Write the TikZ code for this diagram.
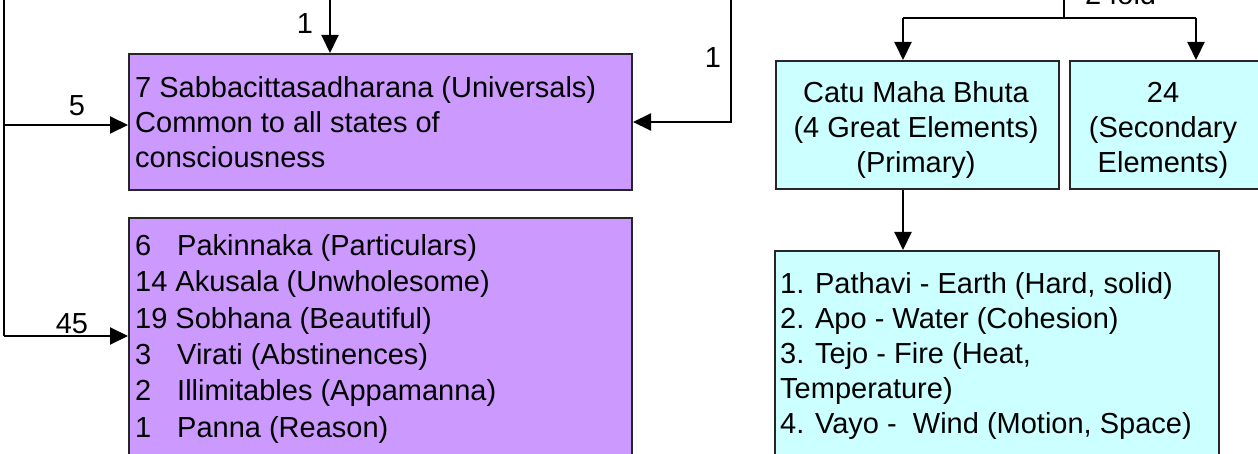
\documentclass[tikz,border=0pt]{standalone}
\usepackage{fontspec}
\setmainfont{Liberation Sans}
\usetikzlibrary{arrows.meta}
\definecolor{lilac}{RGB}{204,153,255}
\definecolor{paleaqua}{RGB}{204,255,255}
\tikzset{
  conn/.style={line width=2pt, draw=black},
  arr/.style={conn, -{Triangle[length=18pt,width=17pt]}},
  pbox/.style={draw=black!85, line width=2pt, fill=lilac, anchor=north west, inner sep=0pt},
  cbox/.style={draw=black!85, line width=2pt, fill=paleaqua, anchor=north west, inner sep=0pt},
  lbl/.style={font=\fontsize{29}{35}\selectfont, inner sep=0pt, anchor=base},
  btxt/.style={font=\fontsize{29}{35}\selectfont, inner sep=0pt, align=left, anchor=north west},
  ctxt/.style={font=\fontsize{29}{35}\selectfont, inner sep=0pt, align=center}
}
\newcommand{\nb}[1]{\makebox[42pt][l]{#1}}
\begin{document}
\begin{tikzpicture}[x=1pt,y=-1pt]
\useasboundingbox (0,0) rectangle (1258,454);
\clip (0,0) rectangle (1258,454);
% boxes
\node[pbox, minimum width=503pt, minimum height=136pt] (p1) at (128,53) {};
\node[pbox, minimum width=503pt, minimum height=260pt] (p2) at (128,217) {};
\node[cbox, minimum width=283pt, minimum height=128pt] (c1) at (775,60) {};
\node[cbox, minimum width=200pt, minimum height=128pt] (c2) at (1069,60) {};
\node[cbox, minimum width=444pt, minimum height=230pt] (c3) at (774,250) {};
% texts
\node[btxt] (p1t) at (135,76) {7 Sabbacittasadharana (Universals)\\Common to all states of\\consciousness};
\node[btxt, font=\fontsize{29}{36.4}\selectfont] (p2t) at (135,234) {\nb{6}Pakinnaka (Particulars)\\14 Akusala (Unwholesome)\\19 Sobhana (Beautiful)\\\nb{3}Virati (Abstinences)\\\nb{2}Illimitables (Appamanna)\\\nb{1}Panna (Reason)};
\node[ctxt] (c1t) at (916,130) {Catu Maha Bhuta\\(4 Great Elements)\\(Primary)};
\node[ctxt] (c2t) at (1163,130) {24\\(Secondary\\Elements)};
\node[btxt] (c3t) at (780,272) {1. Pathavi - Earth (Hard, solid)\\2. Apo - Water (Cohesion)\\3. Tejo - Fire (Heat,\\Temperature)\\4. Vayo -\ \ Wind (Motion, Space)};
% coordinates
\coordinate (ltop) at (4,-5);
\coordinate (lmid) at (4,125);
\coordinate (lbot) at (4,336);
\coordinate (t1) at (330,-5);
\coordinate (rtop) at (731,-5);
\coordinate (rbend) at (731,122);
\coordinate (ftop) at (1064,-5);
\coordinate (fmid) at (1064,18);
\coordinate (fl) at (903,18);
\coordinate (fr) at (1196,18);
% connectors
\draw[conn] (ltop) -- (lbot);
\draw[arr] (lmid) -- (lmid -| p1.west);
\draw[arr] (lbot) -- (lbot -| p2.west);
\draw[arr] (t1) -- (t1 |- p1.north);
\draw[arr] (rtop) -- (rbend) -- (rbend -| p1.east);
\draw[conn] (ftop) -- (fmid);
\draw[conn] (fl) -- (fr);
\draw[arr] (fl) -- (fl |- c1.north);
\draw[arr] (fr) -- (fr |- c2.north);
\draw[arr] (c1.south -| fl) -- (fl |- c3.north);
% labels
\node[lbl] (l1) at (305,34) {1};
\node[lbl] (l1r) at (713,68) {1};
\node[lbl] (l5) at (77,116) {5};
\node[lbl] (l45) at (72,333) {45};
\node[lbl, anchor=base west] (lfold) at (1085,5) {2 fold};
\end{tikzpicture}
\end{document}
